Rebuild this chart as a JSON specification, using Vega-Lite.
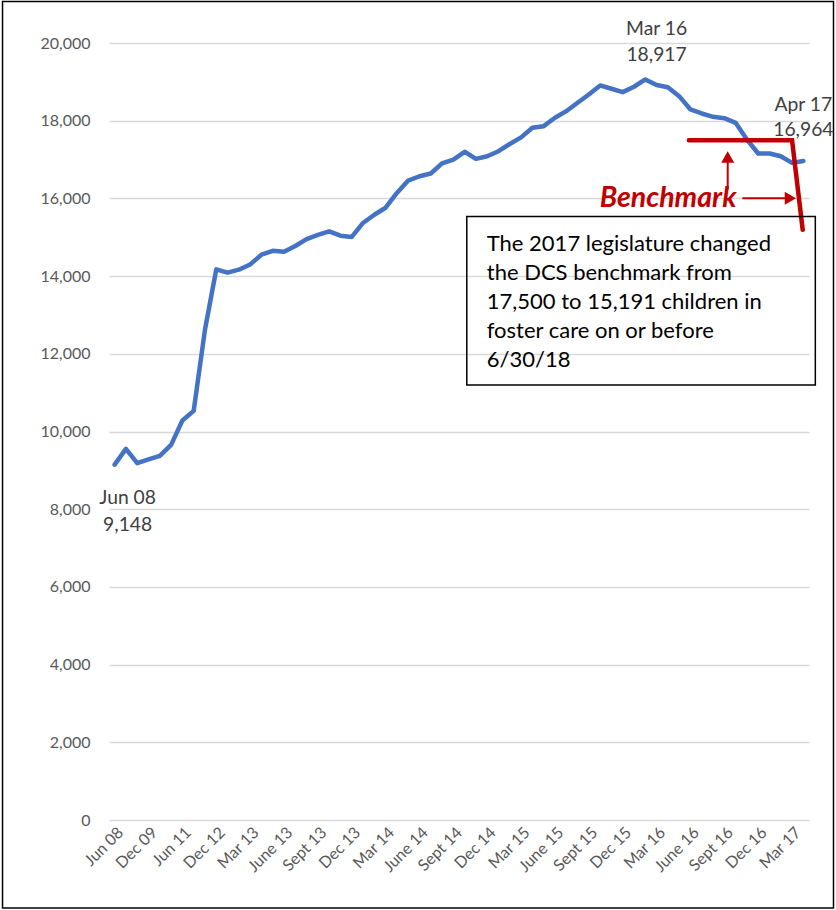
{
  "$schema": "https://vega.github.io/schema/vega-lite/v6.json",
  "width": 700,
  "height": 777,
  "autosize": {"type": "none"},
  "padding": {"left": 109, "top": 43, "right": 27, "bottom": 90},
  "background": "white",
  "config": {
    "view": {"stroke": null},
    "font": "Lato",
    "axis": {"labelOverlap": false}
  },
  "datasets": {
    "series": [
      {"idx": 0, "month": "Jun 08", "children": 9148},
      {"idx": 1, "month": "Dec 08", "children": 9553},
      {"idx": 2, "month": "Jun 09", "children": 9184},
      {"idx": 3, "month": "Dec 09", "children": 9280},
      {"idx": 4, "month": "Jun 10", "children": 9373},
      {"idx": 5, "month": "Dec 10", "children": 9656},
      {"idx": 6, "month": "Jun 11", "children": 10282},
      {"idx": 7, "month": "Dec 11", "children": 10532},
      {"idx": 8, "month": "Jun 12", "children": 12620},
      {"idx": 9, "month": "Dec 12", "children": 14173},
      {"idx": 10, "month": "Jan 13", "children": 14090},
      {"idx": 11, "month": "Feb 13", "children": 14165},
      {"idx": 12, "month": "Mar 13", "children": 14300},
      {"idx": 13, "month": "Apr 13", "children": 14550},
      {"idx": 14, "month": "May 13", "children": 14650},
      {"idx": 15, "month": "June 13", "children": 14625},
      {"idx": 16, "month": "July 13", "children": 14775},
      {"idx": 17, "month": "Aug 13", "children": 14950},
      {"idx": 18, "month": "Sept 13", "children": 15060},
      {"idx": 19, "month": "Oct 13", "children": 15152},
      {"idx": 20, "month": "Nov 13", "children": 15041},
      {"idx": 21, "month": "Dec 13", "children": 15008},
      {"idx": 22, "month": "Jan 14", "children": 15368},
      {"idx": 23, "month": "Feb 14", "children": 15580},
      {"idx": 24, "month": "Mar 14", "children": 15760},
      {"idx": 25, "month": "Apr 14", "children": 16140},
      {"idx": 26, "month": "May 14", "children": 16460},
      {"idx": 27, "month": "June 14", "children": 16570},
      {"idx": 28, "month": "July 14", "children": 16640},
      {"idx": 29, "month": "Aug 14", "children": 16900},
      {"idx": 30, "month": "Sept 14", "children": 17000},
      {"idx": 31, "month": "Oct 14", "children": 17200},
      {"idx": 32, "month": "Nov 14", "children": 17018},
      {"idx": 33, "month": "Dec 14", "children": 17086},
      {"idx": 34, "month": "Jan 15", "children": 17215},
      {"idx": 35, "month": "Feb 15", "children": 17400},
      {"idx": 36, "month": "Mar 15", "children": 17570},
      {"idx": 37, "month": "Apr 15", "children": 17817},
      {"idx": 38, "month": "May 15", "children": 17859},
      {"idx": 39, "month": "June 15", "children": 18075},
      {"idx": 40, "month": "July 15", "children": 18245},
      {"idx": 41, "month": "Aug 15", "children": 18462},
      {"idx": 42, "month": "Sept 15", "children": 18676},
      {"idx": 43, "month": "Oct 15", "children": 18908},
      {"idx": 44, "month": "Nov 15", "children": 18822},
      {"idx": 45, "month": "Dec 15", "children": 18735},
      {"idx": 46, "month": "Jan 16", "children": 18874},
      {"idx": 47, "month": "Feb 16", "children": 19062},
      {"idx": 48, "month": "Mar 16", "children": 18917},
      {"idx": 49, "month": "Apr 16", "children": 18860},
      {"idx": 50, "month": "May 16", "children": 18632},
      {"idx": 51, "month": "June 16", "children": 18289},
      {"idx": 52, "month": "July 16", "children": 18186},
      {"idx": 53, "month": "Aug 16", "children": 18100},
      {"idx": 54, "month": "Sept 16", "children": 18065},
      {"idx": 55, "month": "Oct 16", "children": 17946},
      {"idx": 56, "month": "Nov 16", "children": 17516},
      {"idx": 57, "month": "Dec 16", "children": 17155},
      {"idx": 58, "month": "Jan 17", "children": 17155},
      {"idx": 59, "month": "Feb 17", "children": 17086},
      {"idx": 60, "month": "Mar 17", "children": 16915},
      {"idx": 61, "month": "Apr 17", "children": 16964}
    ],
    "benchmark": [
      {"idx": 50.86, "children": 17500, "order": 1},
      {"idx": 60.0, "children": 17500, "order": 2},
      {"idx": 60.94, "children": 15191, "order": 3}
    ],
    "labels": [
      {"idx": 1.15, "children": 8290, "text": "Jun 08"},
      {"idx": 1.15, "children": 7593, "text": "9,148"},
      {"idx": 48.0, "children": 20360, "text": "Mar 16"},
      {"idx": 48.0, "children": 19690, "text": "18,917"},
      {"idx": 61.0, "children": 18400, "text": "Apr 17"},
      {"idx": 61.0, "children": 17760, "text": "16,964"}
    ]
  },
  "encoding": {
    "x": {
      "field": "idx", "type": "quantitative",
      "scale": {"domain": [-0.5, 61.5], "nice": false, "zero": false},
      "axis": {
        "title": null, "grid": false, "domain": false, "ticks": false,
        "values": [0, 3, 6, 9, 12, 15, 18, 21, 24, 27, 30, 33, 36, 39, 42, 45, 48, 51, 54, 57, 60],
        "labelExpr": "['Jun 08','Dec 09','Jun 11','Dec 12','Mar 13','June 13','Sept 13','Dec 13','Mar 14','June 14','Sept 14','Dec 14','Mar 15','June 15','Sept 15','Dec 15','Mar 16','June 16','Sept 16','Dec 16','Mar 17'][round(datum.value / 3)]",
        "labelAngle": -45, "labelAlign": "right", "labelBaseline": "top",
        "labelFontSize": 16, "labelColor": "#595959", "labelPadding": 4,
        "labelOverlap": false, "labelFlush": false, "labelBound": false
      }
    },
    "y": {
      "field": "children", "type": "quantitative",
      "scale": {"domain": [0, 20000], "nice": false},
      "axis": {
        "title": null, "domain": false, "ticks": false,
        "values": [0, 2000, 4000, 6000, 8000, 10000, 12000, 14000, 16000, 18000, 20000],
        "format": ",.0f", "labelFontSize": 16, "labelColor": "#595959", "labelPadding": 19,
        "gridColor": "#D9D9D9", "gridWidth": 1.3
      }
    }
  },
  "layer": [
    {
      "data": {"name": "series"},
      "mark": {"type": "line", "color": "#4472C4", "strokeWidth": 4.5, "strokeCap": "round", "strokeJoin": "round"}
    },
    {
      "data": {"values": [{"idx": -9.93, "idx2": 63.67, "children": 21068, "children2": -2265}]},
      "mark": {"type": "rect", "fill": null, "stroke": "black", "strokeWidth": 1.5, "clip": false},
      "encoding": {
        "x2": {"field": "idx2"},
        "y2": {"field": "children2"}
      }
    },
    {
      "data": {"name": "benchmark"},
      "mark": {"type": "line", "color": "#C00000", "strokeWidth": 4.5, "strokeCap": "round", "strokeJoin": "miter"},
      "encoding": {
        "order": {"field": "order"}
      }
    },
    {
      "data": {"values": [{"idx": 54.3, "children": 16228, "children2": 17100}]},
      "mark": {"type": "rule", "color": "#C00000", "strokeWidth": 2},
      "encoding": {
        "y2": {"field": "children2"}
      }
    },
    {
      "data": {"values": [{"idx": 55.6, "idx2": 59.5, "children": 16003}]},
      "mark": {"type": "rule", "color": "#C00000", "strokeWidth": 2},
      "encoding": {
        "x2": {"field": "idx2"}
      }
    },
    {
      "data": {"values": [{"idx": 54.3, "children": 17066, "shape": "triangle-up"}, {"idx": 59.85, "children": 16003, "shape": "triangle-right"}]},
      "mark": {"type": "point", "filled": true, "color": "#C00000", "size": 170, "opacity": 1},
      "encoding": {
        "shape": {"field": "shape", "type": "nominal", "scale": null, "legend": null}
      }
    },
    {
      "data": {"values": [{"idx": 55.07, "children": 16011, "text": "Benchmark"}]},
      "mark": {"type": "text", "align": "right", "baseline": "middle", "font": "Lato", "fontSize": 28.5, "fontWeight": "bold", "fontStyle": "italic", "color": "#C00000"},
      "encoding": {
        "text": {"field": "text"}
      }
    },
    {
      "data": {"values": [{"idx": 31.19, "idx2": 62.06, "children": 15531, "children2": 11197}]},
      "mark": {"type": "rect", "fill": null, "stroke": "black", "strokeWidth": 1.5, "clip": false},
      "encoding": {
        "x2": {"field": "idx2"},
        "y2": {"field": "children2"}
      }
    },
    {
      "data": {"values": [{"idx": 32.96, "children": 15080, "text": "The 2017 legislature changed\nthe DCS benchmark from\n17,500 to 15,191 children in\nfoster care on or before\n6/30/18"}]},
      "mark": {"type": "text", "align": "left", "baseline": "top", "lineBreak": "\n", "lineHeight": 29, "font": "Lato", "fontSize": 22, "color": "black"},
      "encoding": {
        "text": {"field": "text"}
      }
    },
    {
      "data": {"name": "labels"},
      "mark": {"type": "text", "align": "center", "baseline": "middle", "font": "Lato", "fontSize": 19.3, "color": "#404040"},
      "encoding": {
        "text": {"field": "text"}
      }
    }
  ]
}
